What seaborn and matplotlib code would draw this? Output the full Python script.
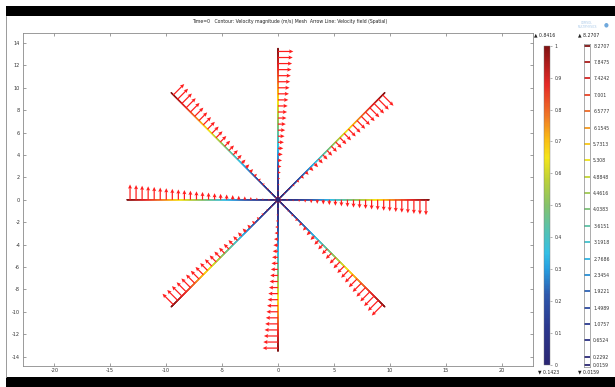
import numpy as np
import pandas as pd
import matplotlib
matplotlib.use("Agg")
import matplotlib.pyplot as plt
import seaborn as sns
from matplotlib.colors import LinearSegmentedColormap, Normalize
from matplotlib.cm import ScalarMappable
from matplotlib.patches import Rectangle
from matplotlib.lines import Line2D

# ---------------- data ----------------
title = "Time=0   Contour: Velocity magnitude (m/s) Mesh  Arrow Line: Velocity field (Spatial)"
spoke_angles_deg = [0, 45, 90, 135, 180, 225, 270, 315]
spoke_length = 13.5
arrows_per_spoke = 25
speed_min = 0.0159
speed_max = 8.2707
contour_levels = [0.0159, 0.2292, 0.6524, 1.0757, 1.4989, 1.9221, 2.3454, 2.7686,
                  3.1918, 3.6151, 4.0383, 4.4616, 4.8848, 5.308, 5.7313, 6.1545,
                  6.5777, 7.001, 7.4242, 7.8475, 8.2707]
contour_labels = ["0.0159", "0.2292", "0.6524", "1.0757", "1.4989", "1.9221", "2.3454",
                  "2.7686", "3.1918", "3.6151", "4.0383", "4.4616", "4.8848", "5.308",
                  "5.7313", "6.1545", "6.5777", "7.001", "7.4242", "7.8475", "8.2707"]
mesh_ticks = [0, 0.1, 0.2, 0.3, 0.4, 0.5, 0.6, 0.7, 0.8, 0.9, 1]
mesh_tick_labels = ["0", "0.1", "0.2", "0.3", "0.4", "0.5", "0.6", "0.7", "0.8", "0.9", "1"]
mesh_min, mesh_max = 0.1423, 0.8416
x_ticks = [-20, -15, -10, -5, 0, 5, 10, 15, 20]
y_ticks = [-14, -12, -10, -8, -6, -4, -2, 0, 2, 4, 6, 8, 10, 12, 14]

# ---------------- style ----------------
sns.set_style("white")
plt.rcParams["font.family"] = ["DejaVu Sans"]
plt.rcParams["axes.unicode_minus"] = False

cmap = LinearSegmentedColormap.from_list("comsol_rainbow", [
    (0.00, (0.17, 0.15, 0.45)),
    (0.12, (0.17, 0.22, 0.56)),
    (0.22, (0.18, 0.35, 0.68)),
    (0.30, (0.15, 0.62, 0.88)),
    (0.35, (0.20, 0.75, 0.90)),
    (0.42, (0.33, 0.76, 0.70)),
    (0.50, (0.52, 0.76, 0.42)),
    (0.58, (0.74, 0.82, 0.22)),
    (0.65, (0.96, 0.90, 0.10)),
    (0.71, (0.98, 0.73, 0.08)),
    (0.78, (0.94, 0.47, 0.15)),
    (0.88, (0.90, 0.16, 0.15)),
    (1.00, (0.50, 0.07, 0.07)),
])

W, H = 615, 387
fig = plt.figure(figsize=(W / 100, H / 100), dpi=100)
fig.patch.set_facecolor("white")

def fx(px):
    return px / W

def fy(py):
    return 1 - py / H

# frame decorations (black bands, left border)
fig.patches.append(Rectangle((fx(6), fy(16)), 1 - fx(6), 10 / H, transform=fig.transFigure,
                             facecolor="black", edgecolor="none", zorder=0))
fig.patches.append(Rectangle((fx(5.5), 0), 1 - fx(5.5), 10.3 / H, transform=fig.transFigure,
                             facecolor="black", edgecolor="none", zorder=0))
fig.lines.append(Line2D([fx(5.7), fx(5.7)], [fy(377), fy(16)], transform=fig.transFigure,
                        color="#9a9a9a", lw=0.7))

fig.text(fx(192), fy(21.5), title, fontsize=3.3, ha="left", va="center", color="#222222")

# ---------------- main axes ----------------
ax = fig.add_axes([fx(23), fy(365.7), fx(533) - fx(23), fy(33.3) - fy(365.7)])
ax.set_facecolor("white")

norm = Normalize(vmin=speed_min, vmax=speed_max)

# spokes coloured by velocity magnitude
rs = np.linspace(0, spoke_length, 700)
frames = []
for a in spoke_angles_deg:
    t = np.deg2rad(a)
    frames.append(pd.DataFrame({"x": rs * np.cos(t), "y": rs * np.sin(t),
                                "speed": speed_max * rs / spoke_length}))
spokes = pd.concat(frames, ignore_index=True)
sns.scatterplot(data=spokes, x="x", y="y", hue="speed", palette=cmap, hue_norm=norm,
                s=0.9, linewidth=0, marker="o", legend=False, ax=ax, zorder=2)

# velocity arrows (rigid clockwise rotation)
ar = (np.arange(arrows_per_spoke) + 0.5) * spoke_length / arrows_per_spoke
omega = speed_max / spoke_length
X, Y, U, V = [], [], [], []
for a in spoke_angles_deg:
    t = np.deg2rad(a)
    x = ar * np.cos(t)
    y = ar * np.sin(t)
    X.append(x); Y.append(y)
    U.append(omega * y); V.append(-omega * x)
X = np.concatenate(X); Y = np.concatenate(Y); U = np.concatenate(U); V = np.concatenate(V)
ax.quiver(X, Y, U, V, angles="xy", scale_units="xy", scale=speed_max / 1.40,
          color="#ff1c1c", width=0.0024, headwidth=3.3, headlength=3.5,
          headaxislength=3.0, pivot="tail", zorder=3)

ax.set_xlim(-22.8, 22.8)
ax.set_ylim(-14.8, 14.85)
ax.set_xticks(x_ticks)
ax.set_yticks(y_ticks)
ax.set_xticklabels([str(v) for v in x_ticks])
ax.set_yticklabels([str(v) for v in y_ticks])
ax.set_xlabel("")
ax.set_ylabel("")
ax.tick_params(axis="both", which="both", direction="in", length=2, width=0.5,
               colors="#777777", labelcolor="#333333", labelsize=3.6, pad=2,
               top=True, right=True, bottom=True, left=True)
for s in ax.spines.values():
    s.set_visible(True)
    s.set_color("#8a8a8a")
    s.set_linewidth(0.6)

# ---------------- mesh colorbar ----------------
cax1 = fig.add_axes([fx(543.7), fy(365), fx(6), fy(45.7) - fy(365)])
cb = fig.colorbar(ScalarMappable(norm=Normalize(0, 1), cmap=cmap), cax=cax1, ticks=mesh_ticks)
cb.ax.set_yticklabels(mesh_tick_labels)
cb.outline.set_linewidth(0.3)
cb.outline.set_edgecolor("#777777")
cax1.tick_params(labelsize=3.3, length=1.5, width=0.4, colors="#777777",
                 labelcolor="#333333", pad=2)

fig.text(fx(534), fy(35), "\u25b2 " + f"{mesh_max:.4f}", fontsize=3.3, ha="left",
         va="center", color="#222222")
fig.text(fx(538), fy(372), "\u25bc " + f"{mesh_min:.4f}", fontsize=3.3, ha="left",
         va="center", color="#222222")

# ---------------- contour legend ----------------
pad = 0.045
cax2 = fig.add_axes([fx(583.7), fy(365 + pad * 38.68), fx(6),
                     (fy(45.7 - pad * 38.68) - fy(365 + pad * 38.68))])
cax2.set_facecolor("white")
cax2.set_xlim(0, 1)
cax2.set_ylim(speed_min - pad, speed_max + pad)
for lev in contour_levels:
    cax2.hlines(lev, 0, 1, colors=[cmap(norm(lev))], linewidth=1.3)
cax2.set_xticks([])
cax2.yaxis.tick_right()
cax2.set_yticks(contour_levels)
cax2.set_yticklabels(contour_labels)
cax2.tick_params(axis="y", length=0, labelsize=3.3, labelcolor="#333333", pad=2.5)
for s in cax2.spines.values():
    s.set_visible(True)
    s.set_color("#8a8a8a")
    s.set_linewidth(0.5)

fig.text(fx(578), fy(35), "\u25b2 " + f"{speed_max:.4f}", fontsize=3.3, ha="left",
         va="center", color="#222222")
fig.text(fx(578), fy(372), "\u25bc " + f"{speed_min:.4f}", fontsize=3.3, ha="left",
         va="center", color="#222222")

fig.text(fx(587), fy(25.5), "COMSOL\nMULTIPHYSICS", fontsize=2.0, ha="center", va="center",
         color="#a8c8e8", linespacing=1.0)
fig.text(fx(606), fy(25), "\u25cf", fontsize=4, ha="center", va="center", color="#6fa8dc")

fig.savefig("out.png", dpi=100, facecolor="white")
